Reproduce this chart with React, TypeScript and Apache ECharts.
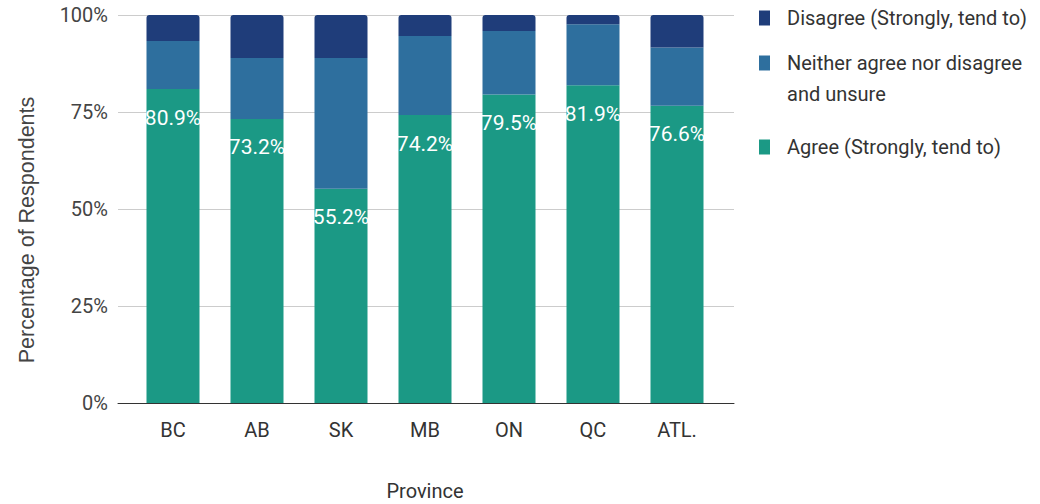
import React, { useEffect, useRef } from "react";
import * as echarts from "echarts";

const provinces = ["BC", "AB", "SK", "MB", "ON", "QC", "ATL."];
const agree = [80.9, 73.2, 55.2, 74.2, 79.5, 81.9, 76.6];
const neither = [12.4, 15.7, 33.7, 20.4, 16.4, 15.7, 15.0];
const disagree = [6.7, 11.1, 11.1, 5.4, 4.1, 2.4, 8.4];
const yTicks = [0, 25, 50, 75, 100];

const C_DIS = "#1f3d7a";
const C_NEI = "#2e6f9e";
const C_AGR = "#1b9985";
const FONT = "Roboto, 'Noto Sans', sans-serif";

export default function App() {
  const ref = useRef<HTMLDivElement>(null);
  useEffect(() => {
    if (!ref.current) return;
    const chart = echarts.init(ref.current, undefined, { renderer: "svg" });
    const legendBase = {
      orient: "vertical",
      left: 759,
      padding: 0,
      itemWidth: 11,
      itemHeight: 15,
      icon: "rect",
      selectedMode: false,
      textStyle: { fontFamily: FONT, fontSize: 20, color: "#333", padding: [0, 0, 0, 12] },
    };
    chart.setOption({
      animation: false,
      textStyle: { fontFamily: FONT },
      grid: [
        { left: 118, right: 306, top: 15, bottom: 101, outerBoundsMode: "none", containLabel: false },
        { left: 131, right: 321, top: 15, bottom: 101, outerBoundsMode: "none", containLabel: false },
      ],
      xAxis: [
        {
          gridIndex: 0,
          type: "value",
          min: 0,
          max: 1,
          axisLine: { show: true, lineStyle: { color: "#333", width: 1 } },
          axisTick: { show: false },
          axisLabel: { show: false },
          splitLine: { show: false },
        },
        {
          gridIndex: 1,
          type: "category",
          data: provinces,
          axisLine: { show: false },
          axisTick: { show: false },
          axisLabel: { margin: 17, fontSize: 20, color: "#333", fontFamily: FONT },
          name: "Province",
          nameLocation: "middle",
          nameGap: 77,
          nameTextStyle: { fontSize: 20, lineHeight: 22, color: "#333", fontFamily: FONT },
        },
      ],
      yAxis: [
        {
          gridIndex: 0,
          type: "value",
          min: yTicks[0],
          max: yTicks[yTicks.length - 1],
          interval: 25,
          axisLine: { show: false },
          axisTick: { show: false },
          axisLabel: { margin: 10, fontSize: 20, color: "#444", fontFamily: FONT, formatter: "{value}%" },
          splitLine: { lineStyle: { color: "#cccccc", width: 1 } },
        },
        {
          gridIndex: 1,
          type: "value",
          min: 0,
          max: 100,
          show: false,
          splitLine: { show: false },
        },
      ],
      legend: [
        { ...legendBase, top: 8, data: ["Disagree (Strongly, tend to)"] },
        { ...legendBase, top: 53, data: ["Neither agree nor disagree"] },
        { ...legendBase, top: 137, data: ["Agree (Strongly, tend to)"] },
      ],
      graphic: [
        {
          type: "text",
          left: 787,
          top: 84,
          style: { text: "and unsure", fontFamily: FONT, fontSize: 20, fill: "#333" },
        },
        {
          type: "text",
          x: 27,
          y: 230,
          rotation: Math.PI / 2,
          style: {
            text: "Percentage of Respondents",
            fontFamily: "'Liberation Sans', Arial, sans-serif",
            fontSize: 21.5,
            fill: "#444",
            align: "center",
            verticalAlign: "middle",
          },
        },
      ],
      series: [
        {
          name: "Agree (Strongly, tend to)",
          type: "bar",
          stack: "s",
          xAxisIndex: 1,
          yAxisIndex: 1,
          barWidth: 53,
          data: agree,
          itemStyle: { color: C_AGR },
          label: {
            show: true,
            position: "insideTop",
            distance: 18,
            color: "#fff",
            fontSize: 21,
            fontFamily: FONT,
            formatter: (p: any) => `${Number(p.value).toFixed(1)}%`,
          },
        },
        {
          name: "Neither agree nor disagree",
          type: "bar",
          stack: "s",
          xAxisIndex: 1,
          yAxisIndex: 1,
          barWidth: 53,
          data: neither,
          itemStyle: { color: C_NEI },
        },
        {
          name: "Disagree (Strongly, tend to)",
          type: "bar",
          stack: "s",
          xAxisIndex: 1,
          yAxisIndex: 1,
          barWidth: 53,
          data: disagree,
          itemStyle: { color: C_DIS, borderRadius: [3, 3, 0, 0] },
        },
      ],
    });
    return () => chart.dispose();
  }, []);
  return (
    <div
      ref={ref}
      style={{ position: "fixed", left: 0, top: 0, width: 1040, height: 504, background: "#fff" }}
    />
  );
}
